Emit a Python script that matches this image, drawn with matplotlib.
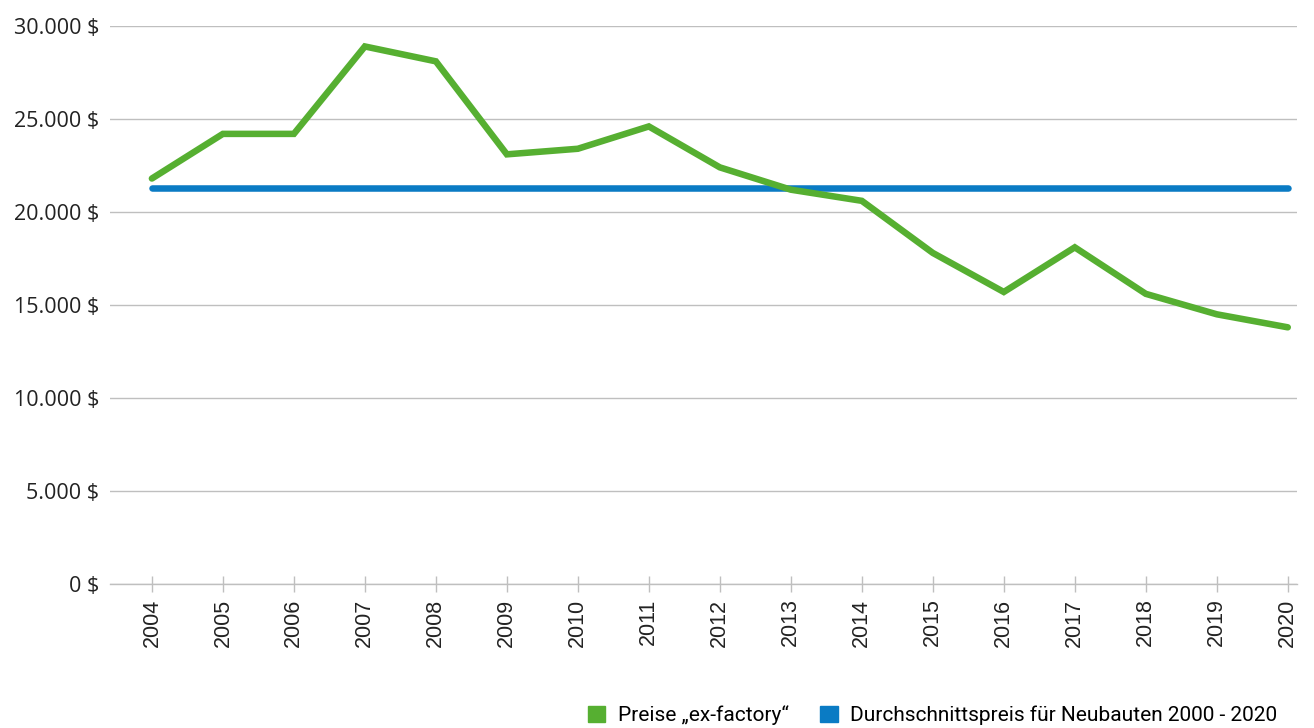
import matplotlib.pyplot as plt
from matplotlib.patches import Patch
from matplotlib.ticker import FuncFormatter

# Daten
jahre = [2004, 2005, 2006, 2007, 2008, 2009, 2010, 2011, 2012,
         2013, 2014, 2015, 2016, 2017, 2018, 2019, 2020]
preise_ex_factory = [21800, 24200, 24200, 28900, 28100, 23100, 23400, 24600, 22400,
                     21200, 20600, 17800, 15700, 18100, 15600, 14500, 13800]
durchschnitt_neubau = 21300

gruen = '#56AF31'
blau = '#0A7BC4'
grid_farbe = '#BFBFBF'

fig = plt.figure(figsize=(13.14, 7.28), dpi=100)
ax = fig.add_axes([110 / 1314, 1 - 584 / 728, (1297 - 110) / 1314, (584 - 26) / 728])

ax.plot(jahre, [durchschnitt_neubau] * len(jahre), color=blau, lw=4.7,
        solid_capstyle='round', zorder=3)
ax.plot(jahre, preise_ex_factory, color=gruen, lw=4.7,
        solid_capstyle='round', solid_joinstyle='miter', zorder=4)

ax.set_xlim(2004 - 0.59, 2020 + 0.13)
ax.set_ylim(0, 30000)
ax.set_yticks(range(0, 30001, 5000))
ax.yaxis.set_major_formatter(FuncFormatter(
    lambda v, p: f'{int(v):,} $'.replace(',', '.')))
ax.set_xticks(jahre)
ax.set_xticklabels([str(j) for j in jahre], rotation=90,
                   fontfamily='Liberation Sans', fontsize=15.5)

ax.grid(axis='y', color=grid_farbe, lw=1)
ax.set_axisbelow(True)
for s in ['top', 'right', 'left']:
    ax.spines[s].set_visible(False)
ax.spines['bottom'].set_color(grid_farbe)
ax.spines['bottom'].set_linewidth(1)

ax.tick_params(axis='y', length=0, pad=8, labelsize=15.5, labelcolor='#222222')
for t in ax.get_yticklabels():
    t.set_fontfamily('Open Sans')
ax.tick_params(axis='x', direction='inout', length=11, width=1,
               color=grid_farbe, pad=5, labelcolor='#222222')

handles = [Patch(color=gruen, label='Preise „ex-factory“'),
           Patch(color=blau, label='Durchschnittspreis für Neubauten 2000 - 2020')]
fig.legend(handles=handles, loc='lower right', bbox_to_anchor=(1296 / 1314, -0.022),
           ncol=2, frameon=False, handlelength=0.85, handleheight=0.85,
           handletextpad=0.6, columnspacing=1.5,
           prop={'family': 'Roboto', 'size': 15})

fig.savefig('out.png', dpi=100)
